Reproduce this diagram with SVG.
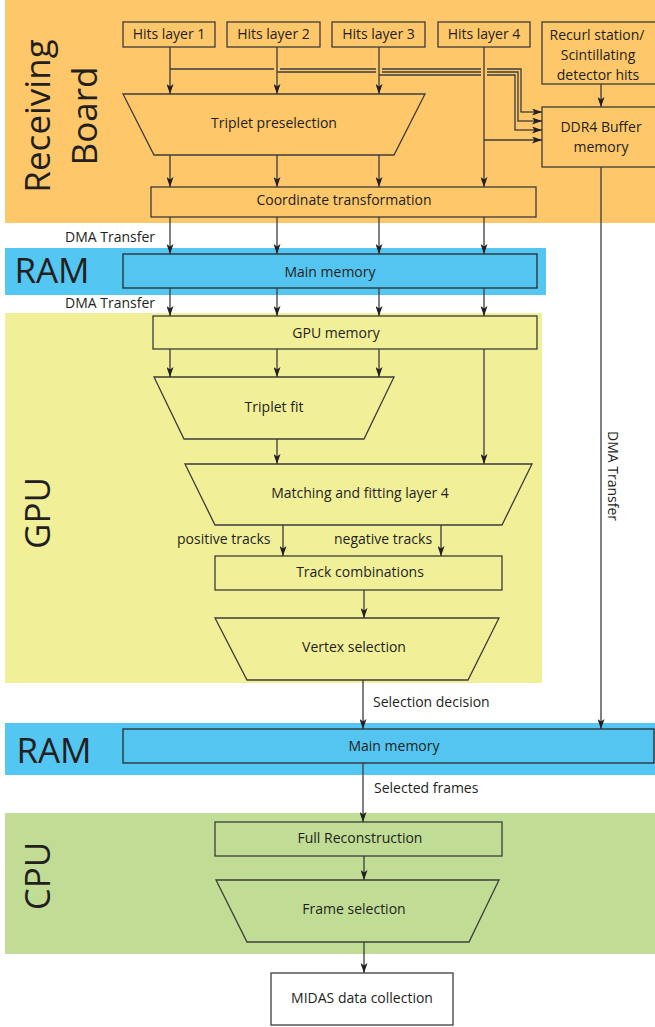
<svg xmlns="http://www.w3.org/2000/svg" width="655" height="1027" viewBox="0 0 655 1027">
<style>
.box{fill:none;stroke:#3c3c3c;stroke-width:1.3}
.bl{fill:#53c5f0;stroke:#2a2a2a;stroke-width:1.3}
.wh{fill:#ffffff;stroke:#3c3c3c;stroke-width:1.3}
.t{font-family:"Open Sans","Noto Sans",sans-serif;font-size:14px;fill:#231f20}
.c{text-anchor:middle}
.big{font-family:"Open Sans","Noto Sans",sans-serif;font-size:35px;fill:#231f20;text-anchor:middle}
.ln{fill:none;stroke:#3c3c3c;stroke-width:1.3}
.ar{marker-end:url(#ah)}
</style>
<defs>
<marker id="ah" viewBox="0 0 10 7" refX="10" refY="3.5" markerWidth="10" markerHeight="7" markerUnits="userSpaceOnUse" orient="auto">
<path d="M0,0 L10,3.5 L0,7 L2.5,3.5 z" fill="#231f20"/>
</marker>
</defs>

<g id="backgrounds">
<rect x="5" y="0" width="650" height="223" fill="#fdc76a"/>
<rect x="5" y="248" width="541" height="47" fill="#54c6f2"/>
<rect x="5" y="313" width="537" height="370" fill="#f1ef98"/>
<rect x="5" y="723" width="650" height="52" fill="#54c6f2"/>
<rect x="5" y="813" width="650" height="141" fill="#c0dc95"/>
<text class="big" transform="translate(50,116) rotate(-90)">Receiving</text>
<text class="big" transform="translate(97,116) rotate(-90)">Board</text>
<text class="big" x="52" y="283">RAM</text>
<text class="big" transform="translate(50,513) rotate(-90)">GPU</text>
<text class="big" x="54" y="763">RAM</text>
<text class="big" transform="translate(50,876) rotate(-90)">CPU</text>
</g>

<g id="hits1"><rect class="box" x="123" y="22" width="92" height="25"/><text class="t c" x="169" y="39">Hits layer 1</text></g>
<g id="hits2"><rect class="box" x="227" y="22" width="93" height="25"/><text class="t c" x="273.5" y="39">Hits layer 2</text></g>
<g id="hits3"><rect class="box" x="332" y="22" width="93" height="25"/><text class="t c" x="378.5" y="39">Hits layer 3</text></g>
<g id="hits4"><rect class="box" x="438" y="22" width="92" height="25"/><text class="t c" x="484" y="39">Hits layer 4</text></g>
<g id="recurl"><rect class="box" x="542" y="22" width="120" height="62"/>
<text class="t c" x="597" y="40">Recurl station/</text>
<text class="t c" x="598" y="60">Scintillating</text>
<text class="t c" x="598" y="80">detector hits</text></g>
<g id="ddr4"><rect class="box" x="542" y="107" width="120" height="60"/>
<text class="t c" x="601" y="132">DDR4 Buffer</text>
<text class="t c" x="601" y="152">memory</text></g>
<g id="triplet-preselection"><polygon class="box" points="123,94 425,94 394,155 154,155"/><text class="t c" x="274" y="128">Triplet preselection</text></g>
<g id="coord"><rect class="box" x="151" y="187" width="385" height="30"/><text class="t c" x="344" y="205">Coordinate transformation</text></g>
<g id="mainmem1"><rect class="bl" x="123" y="254" width="414" height="34"/><text class="t c" x="330" y="277">Main memory</text></g>
<g id="gpumem"><rect class="box" x="153" y="316" width="384" height="33"/><text class="t c" x="336" y="338">GPU memory</text></g>
<g id="triplet-fit"><polygon class="box" points="154,377 394,377 364,439 184,439"/><text class="t c" x="274" y="412">Triplet fit</text></g>
<g id="matching"><polygon class="box" points="185,464 532,464 502,525 215,525"/><text class="t c" x="360" y="498">Matching and fitting layer 4</text></g>
<g id="trackcomb"><rect class="box" x="215" y="556" width="287" height="34"/><text class="t c" x="360" y="577">Track combinations</text></g>
<g id="vertex"><polygon class="box" points="215,618 499,618 468,680 247,680"/><text class="t c" x="354" y="652">Vertex selection</text></g>
<g id="mainmem2"><rect class="bl" x="123" y="729" width="531" height="34"/><text class="t c" x="394" y="751">Main memory</text></g>
<g id="fullreco"><rect class="box" x="215" y="822" width="287" height="34"/><text class="t c" x="360" y="843">Full Reconstruction</text></g>
<g id="framesel"><polygon class="box" points="216,880 499,880 469,942 247,942"/><text class="t c" x="354" y="914">Frame selection</text></g>
<g id="midas"><rect class="wh" x="271" y="973" width="182" height="52"/><text class="t c" x="362" y="1003">MIDAS data collection</text></g>

<g id="connectors">
<line class="ln ar" x1="170" y1="47" x2="170" y2="94"/>
<line class="ln ar" x1="277" y1="47" x2="277" y2="94"/>
<line class="ln ar" x1="379" y1="47" x2="379" y2="94"/>
<line class="ln ar" x1="484" y1="47" x2="484" y2="187"/>
<line class="ln ar" x1="484" y1="140" x2="542" y2="140"/>
<path class="ln" d="M170,69 H274 M280,69 H376 M382,69 H481 M487,69 H521 V112"/>
<line class="ln ar" x1="520.4" y1="112" x2="542" y2="112"/>
<path class="ln" d="M277,72 H376 M382,72 H481 M487,72 H518 V121"/>
<line class="ln ar" x1="517.4" y1="121" x2="542" y2="121"/>
<path class="ln" d="M379,75 H481 M487,75 H515 V130"/>
<line class="ln ar" x1="514.4" y1="130" x2="542" y2="130"/>
<line class="ln ar" x1="601" y1="84" x2="601" y2="107"/>
<line class="ln ar" x1="170" y1="155" x2="170" y2="187"/>
<line class="ln ar" x1="277" y1="155" x2="277" y2="187"/>
<line class="ln ar" x1="379" y1="155" x2="379" y2="187"/>
<line class="ln ar" x1="170" y1="217" x2="170" y2="254"/>
<line class="ln ar" x1="277" y1="217" x2="277" y2="254"/>
<line class="ln ar" x1="379" y1="217" x2="379" y2="254"/>
<line class="ln ar" x1="484" y1="217" x2="484" y2="254"/>
<text class="t" x="65" y="242">DMA Transfer</text>
<line class="ln ar" x1="170" y1="288" x2="170" y2="316"/>
<line class="ln ar" x1="277" y1="288" x2="277" y2="316"/>
<line class="ln ar" x1="379" y1="288" x2="379" y2="316"/>
<line class="ln ar" x1="484" y1="288" x2="484" y2="316"/>
<text class="t" x="65" y="308">DMA Transfer</text>
<line class="ln ar" x1="170" y1="349" x2="170" y2="377"/>
<line class="ln ar" x1="277" y1="349" x2="277" y2="377"/>
<line class="ln ar" x1="379" y1="349" x2="379" y2="377"/>
<line class="ln ar" x1="484" y1="349" x2="484" y2="464"/>
<line class="ln ar" x1="277" y1="439" x2="277" y2="464"/>
<line class="ln ar" x1="283" y1="525" x2="283" y2="556"/>
<line class="ln ar" x1="441" y1="525" x2="441" y2="556"/>
<text class="t" x="177" y="544">positive tracks</text>
<text class="t" x="334" y="544">negative tracks</text>
<line class="ln ar" x1="364" y1="590" x2="364" y2="618"/>
<line class="ln ar" x1="363" y1="680" x2="363" y2="729"/>
<text class="t" x="373" y="707">Selection decision</text>
<line class="ln ar" x1="601" y1="167" x2="601" y2="729"/>
<text class="t c" transform="translate(608,476) rotate(90)">DMA Transfer</text>
<line class="ln ar" x1="363" y1="763" x2="363" y2="822"/>
<text class="t" x="374" y="793">Selected frames</text>
<line class="ln ar" x1="364" y1="856" x2="364" y2="880"/>
<line class="ln ar" x1="364" y1="942" x2="364" y2="973"/>
</g>
</svg>
